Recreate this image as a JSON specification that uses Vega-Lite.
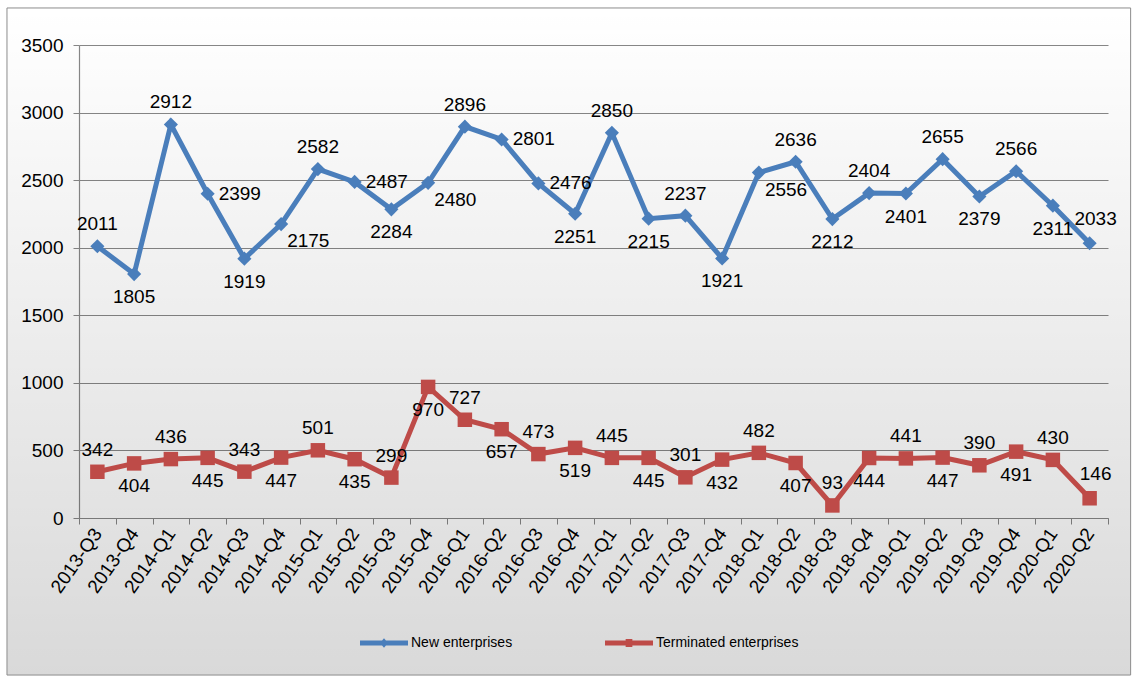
{
  "$schema": "https://vega.github.io/schema/vega-lite/v6.json",
  "width": 1029,
  "height": 473,
  "autosize": "none",
  "padding": {"left": 79, "top": 45, "right": 30, "bottom": 160},
  "background": "#ffffff",
  "config": {"view": {"stroke": null}, "font": "Liberation Sans"},
  "data": {"values": [
    {"quarter": "2013-Q3", "series": "New enterprises", "value": 2011},
    {"quarter": "2013-Q4", "series": "New enterprises", "value": 1805},
    {"quarter": "2014-Q1", "series": "New enterprises", "value": 2912},
    {"quarter": "2014-Q2", "series": "New enterprises", "value": 2399},
    {"quarter": "2014-Q3", "series": "New enterprises", "value": 1919},
    {"quarter": "2014-Q4", "series": "New enterprises", "value": 2175},
    {"quarter": "2015-Q1", "series": "New enterprises", "value": 2582},
    {"quarter": "2015-Q2", "series": "New enterprises", "value": 2487},
    {"quarter": "2015-Q3", "series": "New enterprises", "value": 2284},
    {"quarter": "2015-Q4", "series": "New enterprises", "value": 2480},
    {"quarter": "2016-Q1", "series": "New enterprises", "value": 2896},
    {"quarter": "2016-Q2", "series": "New enterprises", "value": 2801},
    {"quarter": "2016-Q3", "series": "New enterprises", "value": 2476},
    {"quarter": "2016-Q4", "series": "New enterprises", "value": 2251},
    {"quarter": "2017-Q1", "series": "New enterprises", "value": 2850},
    {"quarter": "2017-Q2", "series": "New enterprises", "value": 2215},
    {"quarter": "2017-Q3", "series": "New enterprises", "value": 2237},
    {"quarter": "2017-Q4", "series": "New enterprises", "value": 1921},
    {"quarter": "2018-Q1", "series": "New enterprises", "value": 2556},
    {"quarter": "2018-Q2", "series": "New enterprises", "value": 2636},
    {"quarter": "2018-Q3", "series": "New enterprises", "value": 2212},
    {"quarter": "2018-Q4", "series": "New enterprises", "value": 2404},
    {"quarter": "2019-Q1", "series": "New enterprises", "value": 2401},
    {"quarter": "2019-Q2", "series": "New enterprises", "value": 2655},
    {"quarter": "2019-Q3", "series": "New enterprises", "value": 2379},
    {"quarter": "2019-Q4", "series": "New enterprises", "value": 2566},
    {"quarter": "2020-Q1", "series": "New enterprises", "value": 2311},
    {"quarter": "2020-Q2", "series": "New enterprises", "value": 2033},
    {"quarter": "2013-Q3", "series": "Terminated enterprises", "value": 342},
    {"quarter": "2013-Q4", "series": "Terminated enterprises", "value": 404},
    {"quarter": "2014-Q1", "series": "Terminated enterprises", "value": 436},
    {"quarter": "2014-Q2", "series": "Terminated enterprises", "value": 445},
    {"quarter": "2014-Q3", "series": "Terminated enterprises", "value": 343},
    {"quarter": "2014-Q4", "series": "Terminated enterprises", "value": 447},
    {"quarter": "2015-Q1", "series": "Terminated enterprises", "value": 501},
    {"quarter": "2015-Q2", "series": "Terminated enterprises", "value": 435},
    {"quarter": "2015-Q3", "series": "Terminated enterprises", "value": 299},
    {"quarter": "2015-Q4", "series": "Terminated enterprises", "value": 970},
    {"quarter": "2016-Q1", "series": "Terminated enterprises", "value": 727},
    {"quarter": "2016-Q2", "series": "Terminated enterprises", "value": 657},
    {"quarter": "2016-Q3", "series": "Terminated enterprises", "value": 473},
    {"quarter": "2016-Q4", "series": "Terminated enterprises", "value": 519},
    {"quarter": "2017-Q1", "series": "Terminated enterprises", "value": 445},
    {"quarter": "2017-Q2", "series": "Terminated enterprises", "value": 445},
    {"quarter": "2017-Q3", "series": "Terminated enterprises", "value": 301},
    {"quarter": "2017-Q4", "series": "Terminated enterprises", "value": 432},
    {"quarter": "2018-Q1", "series": "Terminated enterprises", "value": 482},
    {"quarter": "2018-Q2", "series": "Terminated enterprises", "value": 407},
    {"quarter": "2018-Q3", "series": "Terminated enterprises", "value": 93},
    {"quarter": "2018-Q4", "series": "Terminated enterprises", "value": 444},
    {"quarter": "2019-Q1", "series": "Terminated enterprises", "value": 441},
    {"quarter": "2019-Q2", "series": "Terminated enterprises", "value": 447},
    {"quarter": "2019-Q3", "series": "Terminated enterprises", "value": 390},
    {"quarter": "2019-Q4", "series": "Terminated enterprises", "value": 491},
    {"quarter": "2020-Q1", "series": "Terminated enterprises", "value": 430},
    {"quarter": "2020-Q2", "series": "Terminated enterprises", "value": 146}
  ]},
  "resolve": {"scale": {"x": "independent"}},
  "layer": [
    {
      "data": {"values": [{}]},
      "mark": {
        "type": "rect",
        "fill": {"gradient": "linear", "x1": 0, "y1": 0, "x2": 0, "y2": 1, "stops": [
          {"offset": 0, "color": "rgba(0,0,0,0)"},
          {"offset": 1, "color": "rgba(0,0,0,0.15)"}
        ]},
        "stroke": "#8c8c8c",
        "strokeWidth": 1
      },
      "encoding": {
        "x": {"datum": -0.07, "type": "quantitative", "scale": {"domain": [0, 1], "nice": false, "zero": false}, "axis": null},
        "x2": {"datum": 1.022},
        "y": {"datum": 3774, "type": "quantitative", "scale": {"domain": [0, 3500], "nice": false},
              "axis": {"title": null, "format": "d", "values": [0, 500, 1000, 1500, 2000, 2500, 3000, 3500], "grid": true, "gridColor": "#878787", "gridWidth": 1.2, "domainColor": "#878787", "domainWidth": 1.2, "tickColor": "#878787", "tickSize": 6, "labelPadding": 10, "labelFont": "Liberation Sans", "labelFontSize": 19, "labelColor": "#000000"}},
        "y2": {"datum": -1162}
      }
    },
    {
      "transform": [
        {"window": [
          {"op": "row_number", "as": "idx"},
          {"op": "lag", "field": "value", "as": "prev"},
          {"op": "lead", "field": "value", "as": "next"}
        ], "groupby": ["series"], "sort": [{"field": "quarter"}]},
        {"calculate": "!isValid(datum.next) ? 'aboveright' : (datum.series === 'Terminated enterprises' ? (datum.idx % 2 === 1 ? 'above' : 'below') : (datum.value >= max(isValid(datum.prev) ? datum.prev : -1, datum.next) ? 'above' : (datum.value <= min(isValid(datum.prev) ? datum.prev : 99999, datum.next) ? 'below' : (datum.next > datum.value ? 'belowright' : (datum.idx >= 27 ? 'below' : 'right')))))", "as": "place"}
      ],
      "encoding": {
        "x": {"field": "quarter", "type": "ordinal", "bandPosition": 0.5,
              "scale": {"type": "band", "paddingInner": 0, "paddingOuter": 0},
              "axis": {"title": null, "labelAngle": -55, "labelAlign": "right", "labelBaseline": "middle", "labelFont": "Liberation Sans", "labelFontSize": 19, "labelColor": "#000000", "tickBand": "extent", "tickSize": 6, "tickColor": "#878787", "domainColor": "#878787", "domainWidth": 1.2, "labelPadding": 6, "grid": false}},
        "y": {"field": "value", "type": "quantitative", "scale": {"domain": [0, 3500], "nice": false},
              "axis": {"title": null, "format": "d", "values": [0, 500, 1000, 1500, 2000, 2500, 3000, 3500], "grid": true, "gridColor": "#878787", "gridWidth": 1.2, "domainColor": "#878787", "domainWidth": 1.2, "tickColor": "#878787", "tickSize": 6, "labelPadding": 10, "labelFont": "Liberation Sans", "labelFontSize": 19, "labelColor": "#000000"}}
      },
      "layer": [
        {
          "mark": {"type": "line", "strokeWidth": 5},
          "encoding": {
            "color": {"field": "series", "type": "nominal",
                      "scale": {"domain": ["New enterprises", "Terminated enterprises"], "range": ["#4A7EBB", "#BE4B48"]},
                      "legend": {"title": null, "orient": "none", "legendX": 281, "legendY": 574, "direction": "horizontal", "padding": 0,
                                 "symbolSize": 2304, "symbolType": "M-1,-0.1L1,-0.1L1,0.1L-1,0.1Z M-0.17,0L0,-0.2L0.17,0L0,0.2Z", "symbolStrokeWidth": 0, "labelFont": "Liberation Sans", "labelFontSize": 14, "labelColor": "#000000", "labelOffset": 3, "columnPadding": 92,
                                 "encode": {"symbols": {"update": {
                                   "shape": {"signal": "datum.value === 'New enterprises' ? 'M-1,-0.1L1,-0.1L1,0.1L-1,0.1Z M-0.17,0L0,-0.2L0.17,0L0,0.2Z' : 'M-1,-0.1L1,-0.1L1,0.1L-1,0.1Z M-0.14,-0.17L0.14,-0.17L0.14,0.17L-0.14,0.17Z'"},
                                   "fill": {"scale": "color", "field": "value"},
                                   "strokeWidth": {"value": 0},
                                   "opacity": {"value": 1}
                                 }}}}}
          }
        },
        {
          "transform": [{"filter": "datum.series === 'New enterprises'"}],
          "mark": {"type": "point", "filled": true, "opacity": 1, "size": 200, "shape": "diamond"},
          "encoding": {
            "color": {"field": "series", "type": "nominal",
                      "scale": {"domain": ["New enterprises", "Terminated enterprises"], "range": ["#4A7EBB", "#BE4B48"]}}
          }
        },
        {
          "transform": [{"filter": "datum.series === 'Terminated enterprises'"}],
          "mark": {"type": "point", "filled": true, "opacity": 1, "size": 210, "shape": "square"},
          "encoding": {
            "color": {"field": "series", "type": "nominal",
                      "scale": {"domain": ["New enterprises", "Terminated enterprises"], "range": ["#4A7EBB", "#BE4B48"]}}
          }
        },
        {
          "transform": [{"filter": "datum.place === 'above'"}],
          "mark": {"type": "text", "font": "Liberation Sans", "fontSize": 19, "color": "#000000", "baseline": "alphabetic", "dy": -16},
          "encoding": {"text": {"field": "value", "type": "quantitative", "format": "d"}}
        },
        {
          "transform": [{"filter": "datum.place === 'aboveright'"}],
          "mark": {"type": "text", "font": "Liberation Sans", "fontSize": 19, "color": "#000000", "baseline": "alphabetic", "dx": 6, "dy": -18},
          "encoding": {"text": {"field": "value", "type": "quantitative", "format": "d"}}
        },
        {
          "transform": [{"filter": "datum.place === 'below'"}],
          "mark": {"type": "text", "font": "Liberation Sans", "fontSize": 19, "color": "#000000", "baseline": "top", "dy": 14},
          "encoding": {"text": {"field": "value", "type": "quantitative", "format": "d"}}
        },
        {
          "transform": [{"filter": "datum.place === 'right'"}],
          "mark": {"type": "text", "font": "Liberation Sans", "fontSize": 19, "color": "#000000", "baseline": "middle", "align": "left", "dx": 11},
          "encoding": {"text": {"field": "value", "type": "quantitative", "format": "d"}}
        },
        {
          "transform": [{"filter": "datum.place === 'belowright'"}],
          "mark": {"type": "text", "font": "Liberation Sans", "fontSize": 19, "color": "#000000", "baseline": "top", "align": "left", "dx": 6, "dy": 8},
          "encoding": {"text": {"field": "value", "type": "quantitative", "format": "d"}}
        }
      ]
    }
  ]
}
